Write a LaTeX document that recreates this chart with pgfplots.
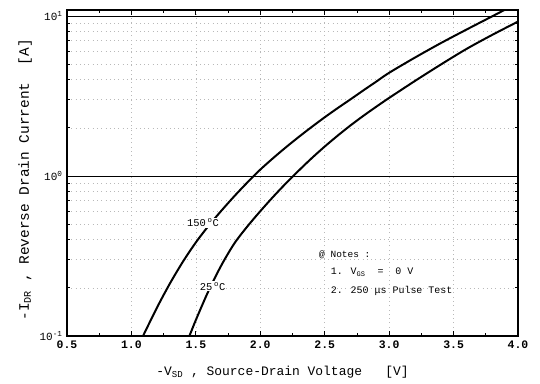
\documentclass[border=0pt]{standalone}
\usepackage{fontspec}
\setmainfont{Liberation Mono}
\usepackage{pgfplots}
\pgfplotsset{compat=1.18}

% Reverse drain current vs. source-drain voltage at two temperatures
\pgfplotstableread{
x y
1.09 0.100
1.20 0.1514
1.30 0.2138
1.40 0.2917
1.50 0.3846
1.60 0.4898
1.70 0.6095
1.80 0.7499
1.90 0.9120
2.00 1.0965
2.10 1.294
2.20 1.514
2.30 1.758
2.40 2.028
2.50 2.328
2.60 2.655
2.70 3.013
2.80 3.428
2.90 3.890
3.00 4.416
3.20 5.495
3.40 6.761
3.60 8.222
3.80 9.954
3.90 10.96
}\hotdata

\pgfplotstableread{
x y
1.45 0.100
1.50 0.1259
1.60 0.1928
1.70 0.2786
1.80 0.3802
1.90 0.4842
2.00 0.6026
2.10 0.7413
2.20 0.9016
2.30 1.084
2.40 1.294
2.50 1.528
2.60 1.786
2.70 2.070
2.80 2.377
2.90 2.710
3.00 3.076
3.20 3.926
3.40 4.966
3.60 6.223
3.80 7.621
4.00 9.226
}\colddata

\begin{document}
\begin{tikzpicture}
\begin{semilogyaxis}[
  scale only axis,
  width=451bp, height=326bp,
  xmin=0.5, xmax=4.0,
  ymin=0.1, ymax=10.9,
  axis line style={line width=1.6pt},
  xtick={0.5,1.0,...,4.0},
  minor x tick num=1,
  ytick={0.1,1,10},
  yticklabels={10\textsuperscript{-1},10\textsuperscript{0},10\textsuperscript{1}},
  x tick label style={/pgf/number format/fixed,/pgf/number format/fixed zerofill,
    /pgf/number format/precision=1,/pgf/number format/assume math mode=true,
    font=\bfseries\fontsize{11.5}{13}\selectfont, yshift=-1.5pt},
  y tick label style={font=\fontsize{11}{13}\selectfont, xshift=-1pt},
  major tick length=5pt, minor tick length=3pt,
  tick style={black, line width=0.8pt},
  xmajorgrids, yminorgrids,
  major grid style={gray!55, dash pattern=on 0.8pt off 3.5pt, line width=0.6pt},
  minor grid style={gray!55, dash pattern=on 0.8pt off 3.5pt, line width=0.6pt},
  xlabel={-V\textsubscript{SD} , Source-Drain Voltage~~~[V]},
  ylabel={-I\textsubscript{DR} , Reverse Drain Current~~[A]},
  xlabel style={at={(axis description cs:0.478,-0.110)}, anchor=center, font=\fontsize{13}{15}\selectfont},
  ylabel style={at={(axis description cs:-0.093,0.479)}, anchor=center, font=\fontsize{14.5}{16}\selectfont},
  clip=true,
]
% solid decade lines
\addplot[black, line width=0.8pt] coordinates {(0.5,1) (4.0,1)};
\addplot[black, line width=0.8pt] coordinates {(0.5,10) (4.0,10)};
% curves
\addplot[black, line width=2pt, smooth] table[x=x,y=y] {\hotdata};
\addplot[black, line width=2pt, smooth] table[x=x,y=y] {\colddata};
% curve labels
\node[fill=white, inner sep=1pt, font=\fontsize{10.5}{12}\selectfont] at (axis cs:1.555,0.51) {150\,\textsuperscript{o}C};
\node[fill=white, inner sep=1pt, font=\fontsize{10.5}{12}\selectfont] at (axis cs:1.63,0.205) {25\,\textsuperscript{o}C};
% notes
\node[anchor=west, font=\fontsize{9.5}{11}\selectfont] at (axis cs:2.43,0.321) {@ Notes :};
\node[anchor=west, font=\fontsize{10}{12}\selectfont] at (axis cs:2.52,0.251) {1. V\textsubscript{GS}~~=~~0 V};
\node[anchor=west, font=\fontsize{10}{12}\selectfont] at (axis cs:2.52,0.191) {2. 250 μs Pulse Test};
\end{semilogyaxis}
\path (current axis.south west) ++(-67bp,-48bp);
\path (current axis.north east) ++(22bp,10bp);
\end{tikzpicture}
\end{document}
